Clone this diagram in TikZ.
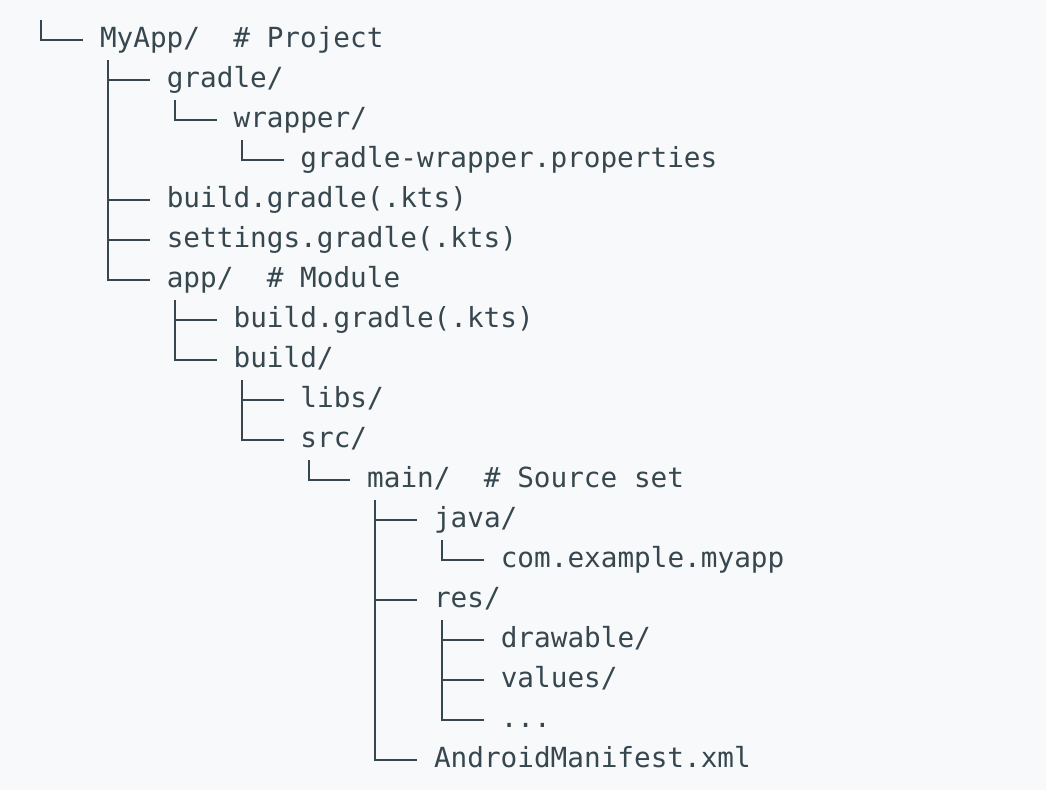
\documentclass[tikz,border=0pt]{standalone}
\usepackage{fontspec}
\setmonofont{DejaVu Sans Mono}
\definecolor{codebg}{RGB}{248,249,250}
\definecolor{codefg}{RGB}{55,71,79}

\begin{document}
\begin{tikzpicture}
  [
  x=16.7pt, y=-40pt,
  entry/.style={anchor=base west, inner sep=0pt, text=codefg,
    font=\ttfamily\fontsize{27.7}{40}\selectfont},
  branch/.style={draw=codefg, line width=2pt}
  ]

\fill[codebg] (0pt,0pt) rectangle (1046pt,-790pt);

\begin{scope}[shift={(33pt,-47pt)}]
% entries, one per row
\node[entry] (myapp)     at (4,0)  {MyApp/\ \ \# Project};
\node[entry] (gradle)    at (8,1)  {gradle/};
\node[entry] (wrapper)   at (12,2) {wrapper/};
\node[entry] (wrapprops) at (16,3) {gradle-wrapper.properties};
\node[entry] (rootbuild) at (8,4)  {build.gradle(.kts)};
\node[entry] (settings)  at (8,5)  {settings.gradle(.kts)};
\node[entry] (app)       at (8,6)  {app/\ \ \# Module};
\node[entry] (appbuild)  at (12,7) {build.gradle(.kts)};
\node[entry] (build)     at (12,8) {build/};
\node[entry] (libs)      at (16,9) {libs/};
\node[entry] (src)       at (16,10) {src/};
\node[entry] (main)      at (20,11) {main/\ \ \# Source set};
\node[entry] (java)      at (24,12) {java/};
\node[entry] (pkg)       at (28,13) {com.example.myapp};
\node[entry] (res)       at (24,14) {res/};
\node[entry] (drawable)  at (28,15) {drawable/};
\node[entry] (values)    at (28,16) {values/};
\node[entry] (more)      at (28,17) {...};
\node[entry] (manifest)  at (24,18) {AndroidManifest.xml};

% tree branches
\coordinate (rootstem) at (0.5,-0.675);
\draw[branch] (rootstem) |- ([shift={(-1,-0.175)}]myapp.base west);

\foreach \parent/\child in {myapp/gradle, gradle/wrapper, wrapper/wrapprops,
    myapp/rootbuild, myapp/settings, myapp/app, app/appbuild, app/build,
    build/libs, build/src, src/main, main/java, java/pkg, main/res,
    res/drawable, res/values, res/more, main/manifest} {
  \draw[branch] ([shift={(0.5,0.325)}]\parent.base west)
    |- ([shift={(-1,-0.175)}]\child.base west);
}
\end{scope}

\end{tikzpicture}
\end{document}
